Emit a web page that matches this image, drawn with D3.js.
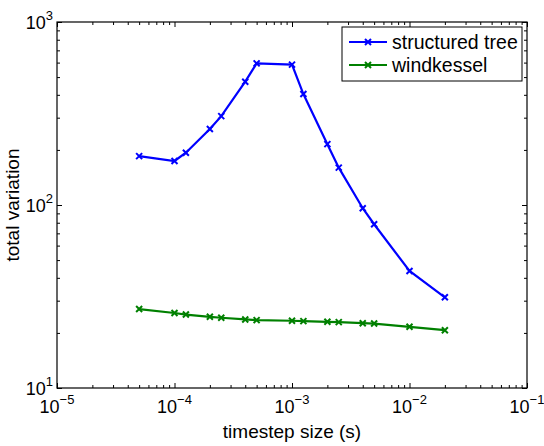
<!DOCTYPE html>
<html lang="en">
<head>
    <title>total variation vs timestep</title>
    <style>
    html, body {
        margin: 0;
        padding: 0;
        background-color: #fff;
    }
    svg text {
        font-family: "Liberation Sans", Arial, sans-serif;
        fill: #000;
    }
    .axis path, .axis line {
        stroke: #000;
    }
    </style>
</head>
<body>
    <div id="Graph"></div>
    <script src="https://d3js.org/d3.v7.min.js"></script>
    <script>
    var w = 544;
    var h = 446;
    var mar = {top: 22, right: 17, bottom: 58, left: 57};

    // timestep sizes (s)
    var timesteps = [5e-5, 1e-4, 1.25e-4, 2e-4, 2.5e-4, 4e-4, 5e-4, 1e-3, 1.25e-3, 2e-3, 2.5e-3, 4e-3, 5e-3, 1e-2, 2e-2];
    var structuredTree = [185, 174, 193, 260, 306, 472, 594, 585, 404, 215, 160, 96, 78.5, 43.6, 31.3];
    var windkessel = [27.0, 25.7, 25.2, 24.5, 24.2, 23.7, 23.5, 23.3, 23.2, 23.0, 22.9, 22.6, 22.5, 21.6, 20.7];
    var seriesNames = ["structured tree", "windkessel"];
    var seriesColors = ["#0000ff", "#008000"];
    var xDecades = [-5, -4, -3, -2, -1];
    var yDecades = [1, 2, 3];

    var iw = w - mar.left - mar.right;
    var ih = h - mar.top - mar.bottom;

    var x = d3.scaleLog().domain([1e-5, 1e-1]).range([0, iw]);
    var y = d3.scaleLog().domain([10, 1000]).range([ih, 0]);

    function minors(decades) {
        var out = [];
        for (var i = 0; i < decades.length - 1; i++) {
            for (var k = 2; k <= 9; k++) out.push(k * Math.pow(10, decades[i]));
        }
        return out;
    }
    var xMajor = xDecades.map(function(d) { return Math.pow(10, d); });
    var yMajor = yDecades.map(function(d) { return Math.pow(10, d); });

    var svg = d3.select("#Graph").append("svg").attr("width", w).attr("height", h);
    var main = svg.append("g").attr("transform", "translate(" + mar.left + "," + mar.top + ")");

    // ticks pointing inward on all four sides
    function addAxis(axisFn, scale, vals, size, tr) {
        var g = main.append("g").attr("class", "axis").attr("transform", tr)
            .call(axisFn(scale).tickValues(vals).tickSizeInner(-size).tickSizeOuter(0).tickFormat(""));
        g.select(".domain").remove();
        g.selectAll("line").attr("stroke-width", 1);
        return g;
    }
    addAxis(d3.axisBottom, x, xMajor, 5, "translate(0," + ih + ")");
    addAxis(d3.axisBottom, x, minors(xDecades), 3, "translate(0," + ih + ")");
    addAxis(d3.axisTop, x, xMajor, 5, "translate(0,0)");
    addAxis(d3.axisTop, x, minors(xDecades), 3, "translate(0,0)");
    addAxis(d3.axisLeft, y, yMajor, 5, "translate(0,0)");
    addAxis(d3.axisLeft, y, minors(yDecades), 3, "translate(0,0)");
    addAxis(d3.axisRight, y, yMajor, 5, "translate(" + iw + ",0)");
    addAxis(d3.axisRight, y, minors(yDecades), 3, "translate(" + iw + ",0)");

    main.append("rect").attr("width", iw).attr("height", ih)
        .attr("fill", "none").attr("stroke", "#000").attr("stroke-width", 1.2);

    // tick labels 10^n
    xDecades.forEach(function(d) {
        var t = main.append("text").attr("x", x(Math.pow(10, d))).attr("y", ih + 25)
            .attr("text-anchor", "middle").style("font-size", "18px");
        t.append("tspan").text("10");
        t.append("tspan").attr("dy", -9).style("font-size", "13px").text("\u2212" + Math.abs(d));
    });
    yDecades.forEach(function(d) {
        var t = main.append("text").attr("x", -4).attr("y", y(Math.pow(10, d)) + 7)
            .attr("text-anchor", "end").style("font-size", "18px");
        t.append("tspan").text("10");
        t.append("tspan").attr("dy", -9).style("font-size", "13px").text(d);
    });

    // axis labels
    main.append("text").attr("x", iw / 2).attr("y", ih + 50)
        .attr("text-anchor", "middle").style("font-size", "19px").text("timestep size (s)");
    main.append("text").attr("transform", "rotate(-90)")
        .attr("x", -ih / 2).attr("y", -38)
        .attr("text-anchor", "middle").style("font-size", "19px").text("total variation");

    var seriesData = [structuredTree, windkessel];
    var line = d3.line()
        .x(function(d) { return x(d[0]); })
        .y(function(d) { return y(d[1]); });

    function cross(g, cx, cy, color) {
        var s = 3;
        g.append("path")
            .attr("d", "M" + (cx - s) + "," + (cy - s) + "L" + (cx + s) + "," + (cy + s) +
                       "M" + (cx - s) + "," + (cy + s) + "L" + (cx + s) + "," + (cy - s))
            .attr("stroke", color).attr("stroke-width", 2).attr("fill", "none");
    }

    seriesData.forEach(function(vals, i) {
        var pts = timesteps.map(function(t, j) { return [t, vals[j]]; });
        main.append("path").datum(pts).attr("d", line)
            .attr("fill", "none").attr("stroke", seriesColors[i]).attr("stroke-width", 2.2);
        var mg = main.append("g");
        pts.forEach(function(p) { cross(mg, x(p[0]), y(p[1]), seriesColors[i]); });
    });

    // legend
    var lg = main.append("g").attr("transform", "translate(" + (iw - 185) + ",5)");
    lg.append("rect").attr("width", 180).attr("height", 54)
        .attr("fill", "#fff").attr("stroke", "#000").attr("stroke-width", 1);
    seriesNames.forEach(function(name, i) {
        var yy = 15 + i * 23;
        lg.append("line").attr("x1", 7).attr("x2", 45).attr("y1", yy).attr("y2", yy)
            .attr("stroke", seriesColors[i]).attr("stroke-width", 2.2);
        cross(lg, 26, yy, seriesColors[i]);
        lg.append("text").attr("x", 50).attr("y", yy + 7).style("font-size", "19.5px").text(name);
    });
    </script>
</body>
</html>
